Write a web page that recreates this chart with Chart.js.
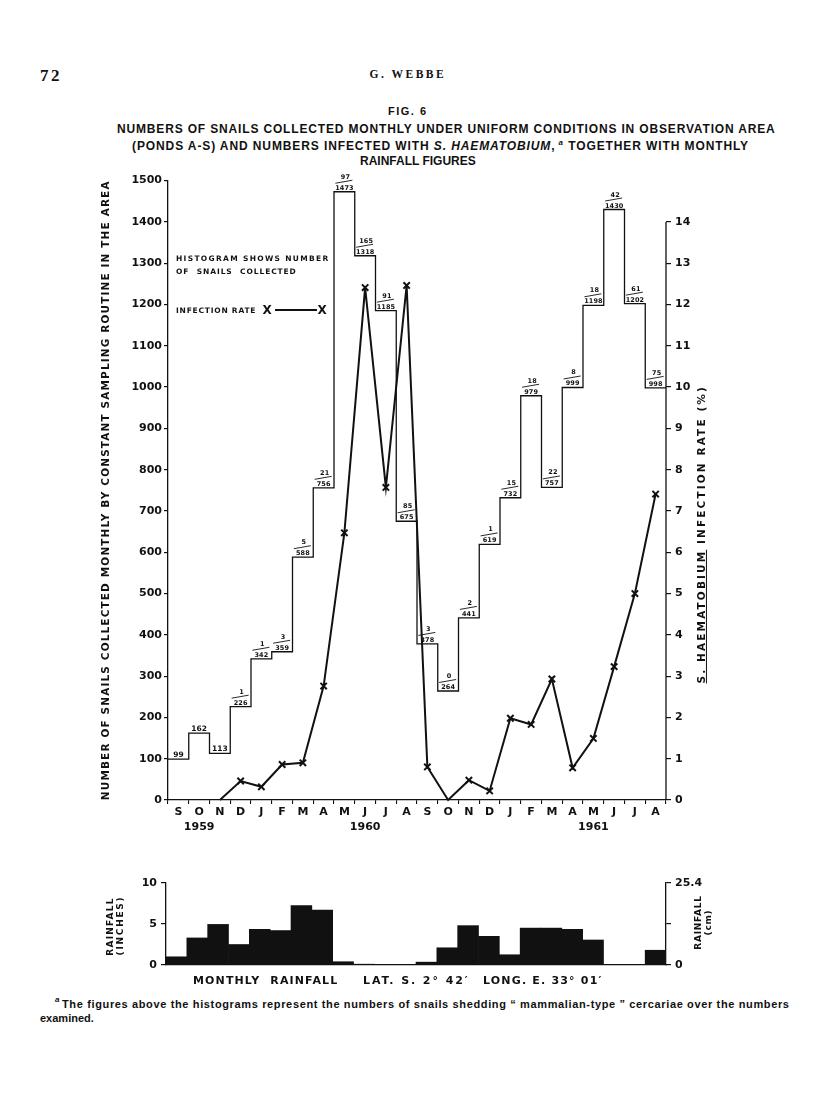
<!DOCTYPE html>
<html><head><meta charset="utf-8">
<script src="https://cdn.jsdelivr.net/npm/chart.js@4.4.0/dist/chart.umd.min.js"></script>
<style>
html,body{margin:0;padding:0;background:#fff;}
body{width:816px;height:1101px;position:relative;overflow:hidden;font-family:'Liberation Sans',Arial,sans-serif;color:#111;}
.t{position:absolute;white-space:nowrap;line-height:1;left:0;top:0;}
.lab{font-family:'DejaVu Sans',sans-serif;font-weight:bold;}
canvas{position:absolute;left:0;}
</style></head><body>
<canvas id="main" width="816" height="690" style="top:170px"></canvas>
<canvas id="rain" width="816" height="120" style="top:860px"></canvas>

<div class="t" style="font-family:'Liberation Serif',serif;font-weight:bold;font-size:17px" data-x="40" data-cy="75" data-w="22">72</div>
<div class="t" style="font-family:'Liberation Serif',serif;font-weight:bold;font-size:11.5px" data-cx="408" data-cy="75" data-w="77">G. WEBBE</div>
<div class="t" style="font-weight:bold;font-size:11px" data-cx="408" data-cy="111" data-w="40">FIG. 6</div>
<div class="t" style="font-weight:bold;font-size:12px" data-cx="446.5" data-cy="129" data-w="659">NUMBERS OF SNAILS COLLECTED MONTHLY UNDER UNIFORM CONDITIONS IN OBSERVATION AREA</div>
<div class="t" style="font-weight:bold;font-size:12px" data-cx="440.5" data-cy="145" data-w="617">(PONDS A-S) AND NUMBERS INFECTED WITH <i>S. HAEMATOBIUM</i>,<sup style="font-size:8px;font-style:italic;vertical-align:5px"> a</sup> TOGETHER WITH MONTHLY</div>
<div class="t" style="font-weight:bold;font-size:12px" data-cx="418" data-cy="161">RAINFALL FIGURES</div>

<div class="t lab" style="font-size:10.5px" data-cx="105" data-cy="490" data-w="620" data-rot="1">NUMBER OF SNAILS COLLECTED MONTHLY BY CONSTANT SAMPLING ROUTINE IN THE AREA</div>
<div class="t lab" style="font-size:10.5px" data-cx="701" data-cy="534" data-w="298" data-rot="1"><u>S. HAEMATOBIUM</u> INFECTION RATE (%)</div>

<div class="t lab" style="font-size:7.5px" data-x="176" data-cy="259" data-w="154">HISTOGRAM SHOWS NUMBER</div>
<div class="t lab" style="font-size:7.5px;word-spacing:4px" data-x="176" data-cy="272" data-w="121">OF SNAILS COLLECTED</div>
<div class="t lab" style="font-size:7.5px" data-x="176" data-cy="311" data-w="80">INFECTION RATE</div>
<div class="t lab" style="font-size:12px" data-cx="267" data-cy="310">X</div>
<div class="t lab" style="font-size:12px" data-cx="322" data-cy="310">X</div>
<div style="position:absolute;left:275px;top:309px;width:42px;height:2px;background:#111"></div>

<div class="t lab" style="font-size:9px" data-cx="110" data-cy="926" data-w="58" data-rot="1">RAINFALL</div>
<div class="t lab" style="font-size:9px" data-cx="121" data-cy="925" data-w="60" data-rot="1">(INCHES)</div>
<div class="t lab" style="font-size:9px" data-cx="698" data-cy="922" data-w="54" data-rot="1">RAINFALL</div>
<div class="t lab" style="font-size:9px" data-cx="709" data-cy="922" data-w="26" data-rot="1">(cm)</div>

<div class="t lab" style="font-size:11px;word-spacing:5px" data-x="193" data-cy="980" data-w="145">MONTHLY RAINFALL</div>
<div class="t lab" style="font-size:11px" data-x="363" data-cy="980" data-w="107">LAT. S. 2° 42′</div>
<div class="t lab" style="font-size:11px" data-x="483" data-cy="980" data-w="120">LONG. E. 33° 01′</div>

<div class="t" style="font-size:8px;font-style:italic;font-weight:bold" data-x="55" data-cy="1000">a</div>
<div class="t" style="font-size:11px;font-weight:bold" data-x="62" data-cy="1004" data-w="728">The figures above the histograms represent the numbers of snails shedding “ mammalian-type ” cercariae over the numbers</div>
<div class="t" style="font-size:11px;font-weight:bold" data-x="40" data-cy="1018">examined.</div>

<script>
// ---------- data ----------
const months = ['S','O','N','D','J','F','M','A','M','J','J','A','S','O','N','D','J','F','M','A','M','J','J','A'];
const yearRow = ['','1959','','','','','','','','1960','','','','','','','','','','','1961','','',''];
const snails = [99,162,113,226,342,359,588,756,1473,1318,1185,675,378,264,441,619,732,979,757,999,1198,1430,1202,998];
const infected = [null,null,null,1,1,3,5,21,97,165,91,85,3,0,2,1,15,18,22,8,18,42,61,75];
const infectionRate = [null,null,0,0.46,0.32,0.86,0.9,2.76,6.47,12.41,7.57,12.46,0.8,0,0.48,0.22,1.98,1.83,2.93,0.78,1.49,3.23,5.0,7.41];
const rainfallInches = [1.0,3.3,4.95,2.5,4.35,4.2,7.25,6.7,0.4,0.1,0.05,0.05,0.35,2.1,4.8,3.5,1.25,4.5,4.5,4.35,3.05,0,0,1.8];
const snailTicks = [0,100,200,300,400,500,600,700,800,900,1000,1100,1200,1300,1400,1500];
const rateTicks = [0,1,2,3,4,5,6,7,8,9,10,11,12,13,14];
const rainTicks = [0,5,10];
const rainCmTicks = [0,12.7,25.4];
const rainCmLabels = ['0','','25.4'];

// ---------- text placement ----------
document.querySelectorAll('.t').forEach(el=>{
  const d = el.dataset;
  if (d.w) {
    el.style.letterSpacing = '0px';
    const w0 = el.offsetWidth;
    const n = el.textContent.length;
    el.style.letterSpacing = ((+d.w - w0) / n) + 'px';
  }
  const w = el.offsetWidth, h = el.offsetHeight;
  const cx = d.cx !== undefined ? +d.cx : (+d.x + w/2);
  const cy = +d.cy;
  if (d.rot) el.style.transform = 'rotate(-90deg)';
  el.style.left = (cx - w/2) + 'px';
  el.style.top = (cy - h/2) + 'px';
});

const INK = '#111';
const tickFont = {family:'DejaVu Sans', size:11, weight:'bold'};

// ---------- main chart ----------
const histoPoints = snails.map((v,i)=>({x:i, y:v})).concat([{x:snails.length, y:snails[snails.length-1]}]);
const labels = months.map((m,i)=> yearRow[i] ? [m, yearRow[i]] : m);

const annot = {
  id:'annot',
  afterDatasetsDraw(chart){
    const {ctx, chartArea} = chart;
    const x = chart.scales.x, y = chart.scales.y, y1 = chart.scales.y1;
    ctx.save();
    ctx.strokeStyle = INK; ctx.lineWidth = 1.3;
    ctx.beginPath();
    ctx.moveTo(chartArea.right, y1.getPixelForValue(0));
    ctx.lineTo(chartArea.right, y1.getPixelForValue(rateTicks[rateTicks.length-1]));
    ctx.stroke();
    ctx.fillStyle = INK; ctx.textAlign = 'center'; ctx.textBaseline = 'alphabetic';
    snails.forEach((v,i)=>{
      const cx = x.getPixelForValue(i), top = y.getPixelForValue(v);
      if (infected[i] === null) {
        ctx.font = 'bold 7.5px "DejaVu Sans"';
        ctx.fillText(String(v), cx, top - 2.5);
        return;
      }
      ctx.font = 'bold 6.5px "DejaVu Sans"';
      ctx.fillText(String(v), cx, top - 2);
      ctx.lineWidth = 0.9;
      ctx.beginPath(); ctx.moveTo(cx - 9, top - 8.5); ctx.lineTo(cx + 8, top - 11.5); ctx.stroke();
      ctx.fillText(String(infected[i]), cx + 1, top - 13);
    });
    ctx.restore();
  }
};

new Chart(document.getElementById('main'), {
  type:'line',
  data:{
    labels: labels,
    datasets:[
      {label:'Snails collected', data: histoPoints, xAxisID:'xs', yAxisID:'y', stepped:true,
       borderColor:INK, borderWidth:1.3, pointRadius:0, fill:false},
      {label:'Infection rate', data: infectionRate, xAxisID:'x', yAxisID:'y1',
       borderColor:INK, borderWidth:2, pointStyle:'crossRot',
       pointRadius: c => (c.raw === 0 ? 0 : 4.5), pointBorderWidth:2, pointBorderColor:INK,
       fill:false, tension:0, clip:false}
    ]
  },
  options:{
    responsive:false, animation:false, devicePixelRatio:1,
    layout:{padding:{top:8, bottom:15, left:0, right:0}},
    plugins:{legend:{display:false}, tooltip:{enabled:false}},
    scales:{
      x:{type:'category', position:'bottom', offset:true,
         grid:{offset:true, drawOnChartArea:false, tickLength:4, color:INK, lineWidth:1.1},
         border:{display:true, color:INK, width:1.3},
         ticks:{padding:0, color:INK, autoSkip:false, maxRotation:0, font:{family:'DejaVu Sans', size:11, weight:'bold', lineHeight:1.4}},
         afterFit: s => { s.height = 45; }},
      xs:{type:'linear', min:0, max:24, display:false},
      y:{position:'left', min:0, max:1500,
         afterBuildTicks: s => { s.ticks = snailTicks.map(v=>({value:v})); },
         ticks:{padding:2, color:INK, font:tickFont, callback: v => String(v)},
         grid:{drawOnChartArea:false, tickLength:4, color:INK, lineWidth:1.2},
         border:{display:true, color:INK, width:1.3},
         afterFit: s => { s.width = 168; }},
      y1:{position:'right', min:0, max:15,
         afterBuildTicks: s => { s.ticks = rateTicks.map(v=>({value:v})); },
         ticks:{padding:4, color:INK, font:tickFont, callback: v => String(v)},
         grid:{drawOnChartArea:false, tickLength:5, color:INK, lineWidth:1.2},
         border:{display:false},
         afterFit: s => { s.width = 150; }}
    }
  },
  plugins:[annot]
});

// ---------- rainfall chart ----------
new Chart(document.getElementById('rain'), {
  type:'bar',
  data:{
    labels: months,
    datasets:[{label:'Rainfall (inches)', data: rainfallInches, backgroundColor:INK, borderWidth:0,
               barPercentage:1, categoryPercentage:1, yAxisID:'y'}]
  },
  options:{
    responsive:false, animation:false, devicePixelRatio:1,
    layout:{padding:{top:23, bottom:15, left:0, right:0}},
    plugins:{legend:{display:false}, tooltip:{enabled:false}},
    scales:{
      x:{type:'category', offset:true, ticks:{display:false}, grid:{display:false},
         border:{display:true, color:INK, width:1.2},
         afterFit: s => { s.height = 0; }},
      y:{position:'left', min:0, max:10,
         afterBuildTicks: s => { s.ticks = rainTicks.map(v=>({value:v})); },
         ticks:{padding:4, color:INK, font:tickFont, callback: v => String(v)},
         grid:{drawOnChartArea:false, tickLength:5, color:INK, lineWidth:1.2},
         border:{display:true, color:INK, width:1.3},
         afterFit: s => { s.width = 166; }},
      y1:{position:'right', min:0, max:25.4,
         afterBuildTicks: s => { s.ticks = rainCmTicks.map(v=>({value:v})); },
         ticks:{padding:4, color:INK, font:tickFont, callback: (v,i) => rainCmLabels[i]},
         grid:{drawOnChartArea:false, tickLength:5, color:INK, lineWidth:1.2},
         border:{display:true, color:INK, width:1.3},
         afterFit: s => { s.width = 150; }}
    }
  }
});
</script>
</body></html>
